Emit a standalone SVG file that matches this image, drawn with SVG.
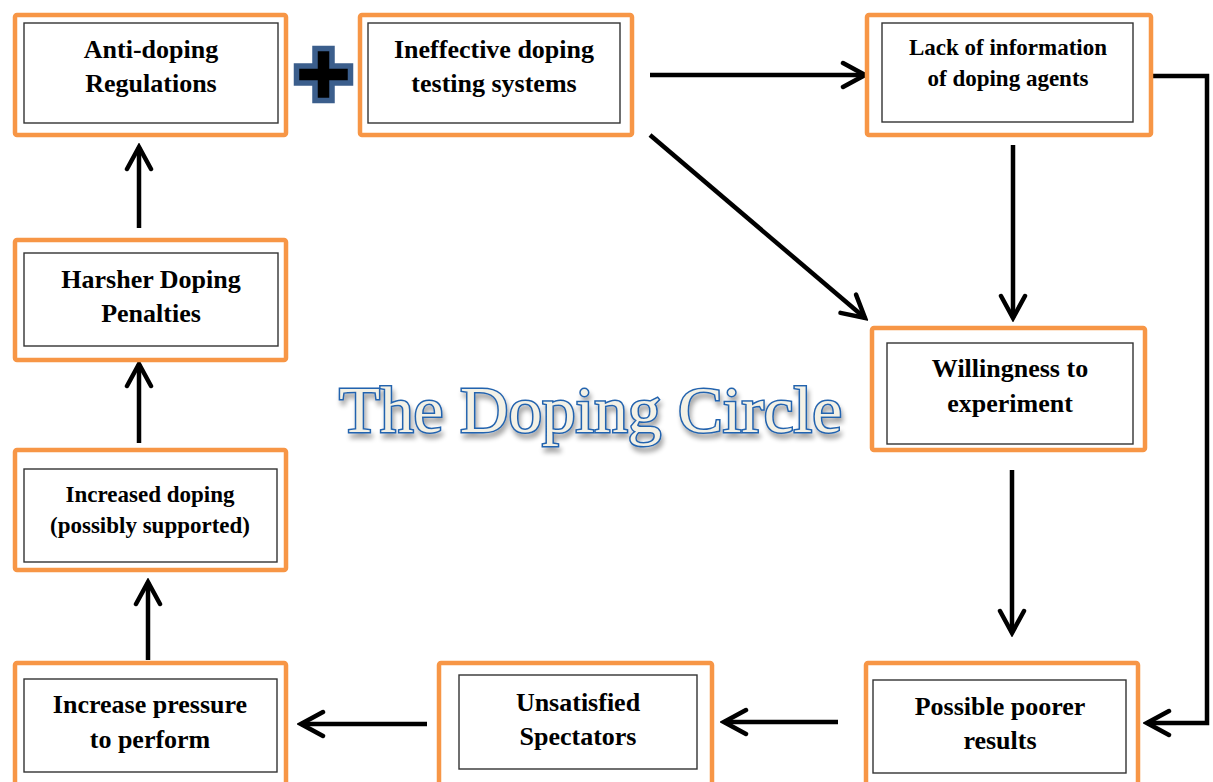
<svg xmlns="http://www.w3.org/2000/svg" width="1213" height="782" viewBox="0 0 1213 782">
<style>
.outer{fill:#fff;stroke:#F79646;stroke-width:4.5}
.inner{fill:#fff;stroke:#333;stroke-width:1.4}
.t{font-family:"Liberation Serif","Times New Roman",serif;font-weight:bold;font-size:26px;fill:#000;text-anchor:middle}
.s{font-size:23px}
.c{fill:none;stroke:#000;stroke-width:4.5}
</style>
<defs>
<marker id="ah" markerUnits="userSpaceOnUse" markerWidth="30" markerHeight="30" refX="26" refY="15" orient="auto">
<path d="M4,3 L26,15 L4,27" fill="none" stroke="#000" stroke-width="4.5" stroke-linecap="round" stroke-linejoin="miter"/>
</marker>
<filter id="sh" x="-10%" y="-30%" width="120%" height="170%">
<feGaussianBlur in="SourceAlpha" stdDeviation="2.5"/>
<feOffset dx="2" dy="5" result="b"/>
<feComponentTransfer><feFuncA type="linear" slope="0.35"/></feComponentTransfer>
<feMerge><feMergeNode/><feMergeNode in="SourceGraphic"/></feMerge>
</filter>
</defs>
<rect width="1213" height="782" fill="#fff"/>

<g id="connectors">
<line class="c" x1="139" y1="228" x2="139" y2="147" marker-end="url(#ah)"/>
<line class="c" x1="139" y1="443" x2="139" y2="364" marker-end="url(#ah)"/>
<line class="c" x1="148" y1="660" x2="148" y2="582" marker-end="url(#ah)"/>
<line class="c" x1="427" y1="724" x2="301" y2="724" marker-end="url(#ah)"/>
<line class="c" x1="838" y1="722" x2="724" y2="722" marker-end="url(#ah)"/>
<line class="c" x1="650" y1="75" x2="865" y2="75" marker-end="url(#ah)"/>
<line class="c" x1="650" y1="135" x2="865" y2="318" marker-end="url(#ah)"/>
<line class="c" x1="1013" y1="145" x2="1013" y2="318" marker-end="url(#ah)"/>
<line class="c" x1="1012" y1="470" x2="1012" y2="633" marker-end="url(#ah)"/>
<polyline class="c" points="1151,76 1207,76 1207,723 1147,723" marker-end="url(#ah)"/>
</g>

<g id="plus">
<path d="M315,48.5 H332 V66 H350.5 V83 H332 V100.5 H315 V83 H296.5 V66 H315 Z" fill="#000" stroke="#3B5E8C" stroke-width="5.5" stroke-linejoin="miter"/>
</g>

<g id="n-antidoping">
<rect class="outer" x="15" y="15" width="271" height="120" rx="2"/>
<rect class="inner" x="24" y="23" width="254" height="100"/>
<text class="t" x="151" y="58">Anti-doping</text>
<text class="t" x="151" y="92">Regulations</text>
</g>

<g id="n-ineffective">
<rect class="outer" x="360" y="15" width="272" height="120" rx="2"/>
<rect class="inner" x="368" y="23" width="252" height="100"/>
<text class="t" x="494" y="58">Ineffective doping</text>
<text class="t" x="494" y="92">testing systems</text>
</g>

<g id="n-lack">
<rect class="outer" x="867" y="15" width="284" height="120" rx="2"/>
<rect class="inner" x="882" y="23" width="251" height="99"/>
<text class="t s" x="1008" y="55">Lack of information</text>
<text class="t s" x="1008" y="86">of doping agents</text>
</g>

<g id="n-willingness">
<rect class="outer" x="872" y="328" width="273" height="122" rx="2"/>
<rect class="inner" x="887" y="343" width="246" height="101"/>
<text class="t" x="1010" y="377">Willingness to</text>
<text class="t" x="1010" y="412">experiment</text>
</g>

<g id="n-harsher">
<rect class="outer" x="15" y="240" width="271" height="120" rx="2"/>
<rect class="inner" x="24" y="253" width="254" height="93"/>
<text class="t" x="151" y="288">Harsher Doping</text>
<text class="t" x="151" y="322">Penalties</text>
</g>

<g id="n-increased">
<rect class="outer" x="15" y="450" width="271" height="120" rx="2"/>
<rect class="inner" x="24" y="469" width="253" height="93"/>
<text class="t s" x="150" y="502">Increased doping</text>
<text class="t s" x="150" y="533">(possibly supported)</text>
</g>

<g id="n-pressure">
<rect class="outer" x="15" y="663" width="271" height="125" rx="2"/>
<rect class="inner" x="24" y="679" width="253" height="93"/>
<text class="t" x="150" y="713">Increase pressure</text>
<text class="t" x="150" y="748">to perform</text>
</g>

<g id="n-unsatisfied">
<rect class="outer" x="439" y="663" width="273" height="125" rx="2"/>
<rect class="inner" x="459" y="675" width="238" height="94"/>
<text class="t" x="578" y="711">Unsatisfied</text>
<text class="t" x="578" y="745">Spectators</text>
</g>

<g id="n-poorer">
<rect class="outer" x="866" y="663" width="272" height="125" rx="2"/>
<rect class="inner" x="873" y="680" width="253" height="93"/>
<text class="t" x="1000" y="715">Possible poorer</text>
<text class="t" x="1000" y="749">results</text>
</g>

<g id="title">
<text x="339" y="432" textLength="503" lengthAdjust="spacingAndGlyphs" font-family="'Liberation Serif','Times New Roman',serif" font-size="66" fill="#F3F1E6" stroke="#2463AE" stroke-width="3" paint-order="stroke" filter="url(#sh)">The Doping Circle</text>
</g>
</svg>
